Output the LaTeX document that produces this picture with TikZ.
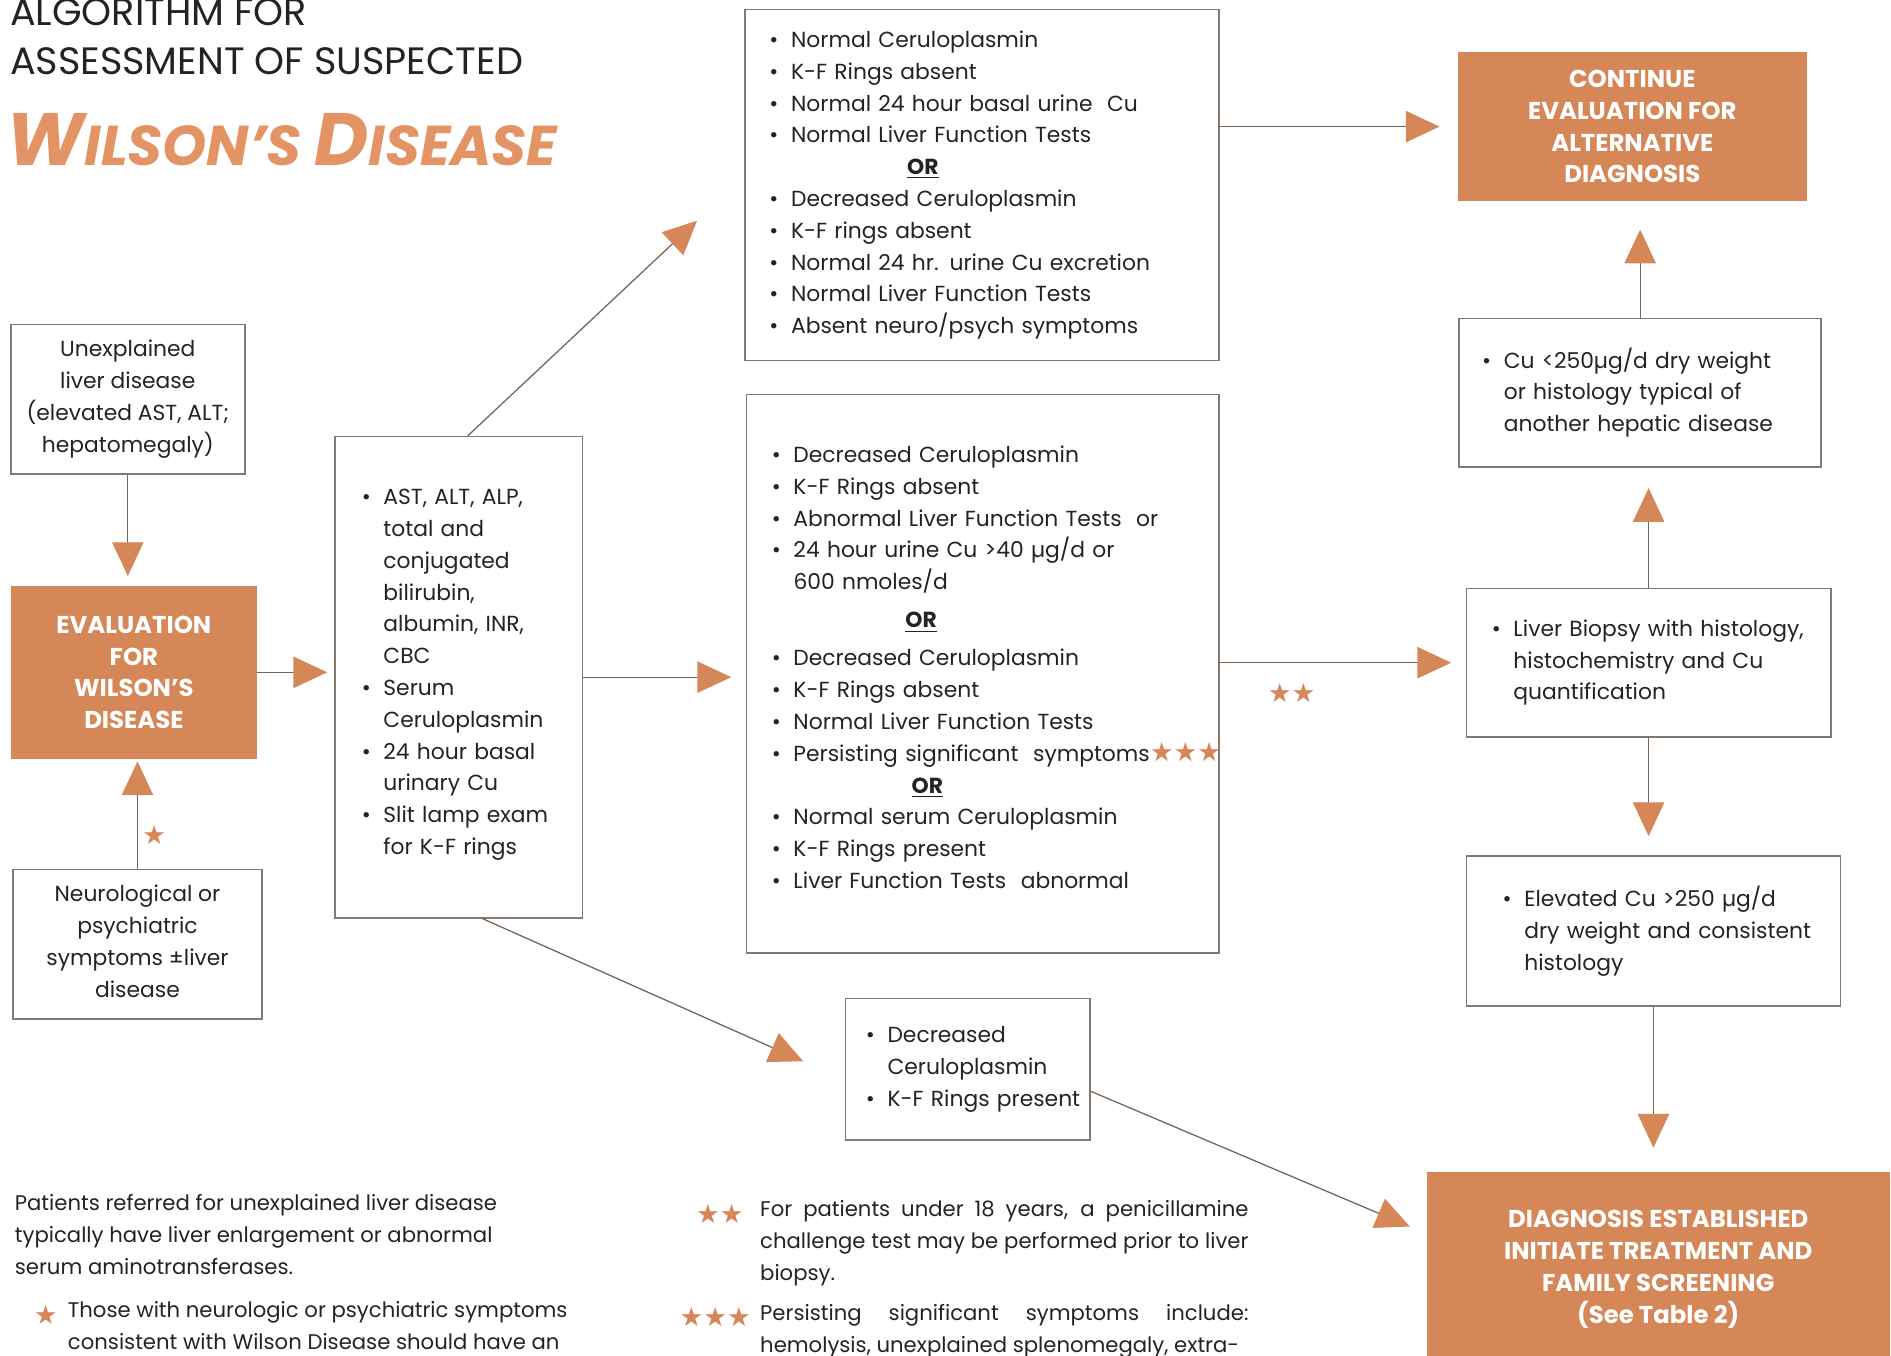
\documentclass[tikz,border=0pt]{standalone}
\usepackage{fontspec}
\setmainfont{Poppins}
\newfontfamily\symfont{DejaVu Sans}
\usepackage{tikz}
\usetikzlibrary{arrows.meta, calc}

\definecolor{wdorange}{RGB}{214,135,88}
\definecolor{ttlorange}{RGB}{228,148,100}
\definecolor{boxgray}{RGB}{135,120,110}
\definecolor{linegray}{RGB}{115,100,92}
\definecolor{txt}{RGB}{35,35,35}

\newcommand{\bl}[1]{\mbox{\makebox[10.2pt][l]{•}#1}}
\newcommand{\cl}[1]{\mbox{\hspace*{10.2pt}#1}}
\newcommand{\str}{\textcolor{wdorange}{\symfont\fontsize{12.5}{15}\selectfont ★}}
\newcommand{\orline}[1]{\hspace*{#1}\underline{\textbf{OR}}}

\begin{document}
\begin{tikzpicture}[x=0.02cm, y=-0.02cm,
  sz/.style 2 args={minimum width=#1*0.02cm, minimum height=#2*0.02cm},
  box/.style={draw=boxgray, line width=0.8pt, inner sep=0pt, text=txt, font=\fontsize{10.3}{15}\selectfont},
  lbox/.style={box, align=left},
  cbox/.style={box, align=center},
  obox/.style={fill=wdorange, inner sep=0pt, text=white, align=center, font=\bfseries\fontsize{11.5}{15}\selectfont},
  conn/.style={draw=linegray, line width=0.6pt, -{Triangle[length=0.56cm, width=0.52cm, color=wdorange]}},
  foot/.style={inner sep=0pt, text=txt, font=\fontsize{10}{15}\selectfont},
  ttl/.style={anchor=base west, inner sep=0pt}]
  \useasboundingbox (0,0) rectangle (1568,1124);

  \node[ttl, text=txt, font=\fontsize{18}{22}\selectfont] (ttla) at (8,21) {ALGORITHM FOR};
  \node[ttl, text=txt, font=\fontsize{18}{22}\selectfont] (ttlb) at (8,62) {ASSESSMENT OF SUSPECTED};
  \node[ttl, text=ttlorange, font=\bfseries\itshape] (ttlc) at (5,137) {{\fontsize{35}{35}\selectfont W}{\fontsize{26.5}{26.5}\selectfont ILSON’S }{\fontsize{35}{35}\selectfont D}{\fontsize{26.5}{26.5}\selectfont ISEASE}};

  \node[cbox, sz={194}{124}] (unexpl) at (106,331) {Unexplained\\liver disease\\(elevated AST, ALT;\\hepatomegaly)};
  \node[obox, sz={204}{143}] (evalw) at (111,557.5) {EVALUATION\\FOR\\WILSON’S\\DISEASE};
  \node[cbox, sz={206}{124}] (neuro) at (114,783) {\mbox{}\\[-10pt]Neurological or\\psychiatric\\symptoms ±liver\\disease};

  \node[lbox, sz={205}{399}, text width=3.22cm] (tests) at (380.5,561.5) {\bl{AST, ALT, ALP,}\\\cl{total and}\\\cl{conjugated}\\\cl{bilirubin,}\\\cl{albumin, INR,}\\\cl{CBC}\\\bl{Serum}\\\cl{Ceruloplasmin}\\\bl{24 hour basal}\\\cl{urinary Cu}\\\bl{Slit lamp exam}\\\cl{for K-F rings}\\[-10pt]\mbox{}};

  \node[lbox, sz={393}{291}, text width=7.06cm] (normal) at (814.5,153.5) {\bl{Normal Ceruloplasmin}\\\bl{K-F Rings absent}\\\bl{Normal 24 hour basal urine\ \ Cu}\\\bl{Normal Liver Function Tests}\\\orline{65pt}\\\bl{Decreased Ceruloplasmin}\\\bl{K-F rings absent}\\\bl{Normal 24 hr. urine Cu excretion}\\\bl{Normal Liver Function Tests}\\\bl{Absent neuro/psych symptoms}};

  \node[lbox, sz={392}{463}, text width=7.0cm] (mid) at (815,558.5) {\bl{Decreased Ceruloplasmin}\\\bl{K-F Rings absent}\\\bl{Abnormal Liver Function Tests\ \ or}\\\bl{24 hour urine Cu >40 µg/d or}\\\cl{600 nmoles/d}\\[3pt]\orline{63pt}\\[3pt]\bl{Decreased Ceruloplasmin}\\\bl{K-F Rings absent}\\\bl{Normal Liver Function Tests}\\\bl{Persisting significant\ \ symptoms\str\str\str}\\\orline{66pt}\\\bl{Normal serum Ceruloplasmin}\\\bl{K-F Rings present}\\\bl{Liver Function Tests\ \ abnormal}\\[-9pt]\mbox{}};

  \node[lbox, sz={203}{117}, text width=3.38cm] (kfpres) at (802.5,886.5) {\bl{Decreased}\\\cl{Ceruloplasmin}\\\bl{K-F Rings present}};

  \node[obox, sz={289}{124}] (cont) at (1353.5,105) {CONTINUE\\EVALUATION FOR\\ALTERNATIVE\\DIAGNOSIS};
  \node[lbox, sz={300}{123}, text width=5.24cm] (culow) at (1360,325.5) {\bl{Cu <250µg/d dry weight}\\\cl{or histology typical of}\\\cl{another hepatic disease}};
  \node[lbox, sz={302}{123}, text width=5.2cm] (biopsy) at (1367,549.5) {\bl{Liver Biopsy with histology,}\\\cl{histochemistry and Cu}\\\cl{quantification}};
  \node[lbox, sz={310}{124}, text width=5.0cm] (elev) at (1371,772) {\bl{Elevated Cu >250 µg/d}\\\cl{dry weight and consistent}\\\cl{histology}};
  \node[obox, sz={384}{161}] (diag) at (1375,1052.5) {DIAGNOSIS ESTABLISHED\\INITIATE TREATMENT AND\\FAMILY SCREENING\\(See Table 2)};

  \coordinate (tnorm) at (578,183);
  \coordinate (tkf) at (666,880);
  \coordinate (tdiag) at (1169,1017);

  \draw[conn, shorten >=0.16cm] (unexpl.south) -- (unexpl.south |- evalw.north);
  \draw[conn, shorten >=0.04cm] (neuro.north) -- (neuro.north |- evalw.south);
  \node[inner sep=0pt] (s1) at (128,692) {\str};
  \draw[conn, shorten >=0.12cm] (evalw.east) -- (evalw.east -| tests.west);
  \draw[conn] ([xshift=0.15cm]tests.north) -- (tnorm);
  \draw[conn, shorten >=0.24cm] (tests.east) -- (tests.east -| mid.west);
  \draw[conn] ([xshift=0.39cm]tests.south) -- (tkf);
  \draw[conn, shorten >=0.3cm] (normal.east |- cont.west) -- (cont.west);
  \draw[conn, shorten >=0.24cm] (mid.east |- biopsy.west) -- (biopsy.west);
  \node[inner sep=0pt] (s2) at (1071,575) {\str\str};
  \draw[conn] ([yshift=-0.37cm]kfpres.east) -- (tdiag);
  \draw[conn, shorten >=0.46cm] (culow.north) -- (culow.north |- cont.south);
  \draw[conn, shorten >=0.34cm] (biopsy.north) -- (biopsy.north |- culow.south);
  \draw[conn, shorten >=0.32cm] (biopsy.south) -- (biopsy.south |- elev.north);
  \draw[conn, shorten >=0.4cm] (elev.south) -- (elev.south |- diag.north);

  \node[foot, anchor=north west, align=left] (noteA) at (12,990) {Patients referred for unexplained liver disease\\typically have liver enlargement or abnormal\\serum aminotransferases.};
  \node[inner sep=0pt] (s3) at (38,1090) {\str};
  \node[foot, anchor=north west, align=left] (noteB) at (56,1079) {Those with neurologic or psychiatric symptoms\\consistent with Wilson Disease should have an};
  \node[inner sep=0pt] (s4) at (597,1007) {\str\str};
  \node[foot, anchor=north west, text width=8.1cm, align=justify] (noteC) at (630,995) {For patients under 18 years, a penicillamine\linebreak challenge test may be performed prior to liver\linebreak biopsy.};
  \node[inner sep=0pt] (s5) at (593,1092) {\str\str\str};
  \node[foot, anchor=north west, text width=8.1cm, align=justify] (noteD) at (630,1081) {Persisting significant symptoms include:\linebreak hemolysis, unexplained splenomegaly, extra-};
\end{tikzpicture}
\end{document}
